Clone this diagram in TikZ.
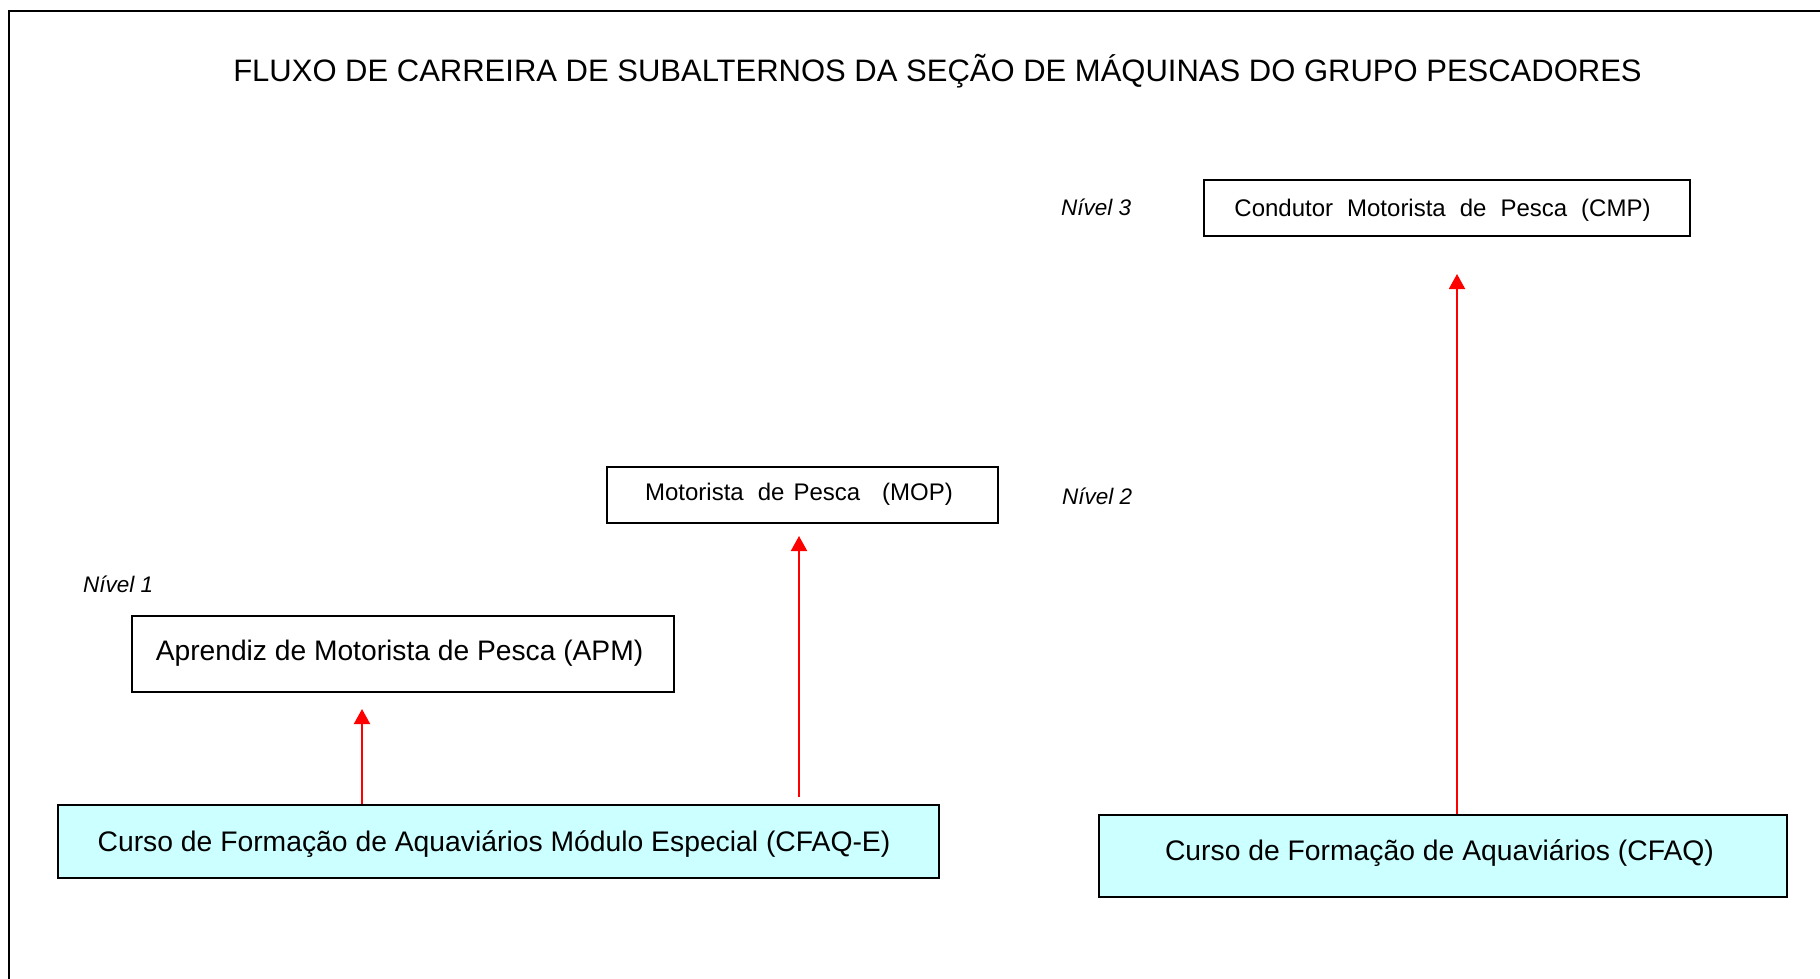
\documentclass[tikz,border=0pt]{standalone}
\usepackage{fontspec}
\setmainfont{Liberation Sans}
\usetikzlibrary{arrows.meta}
\definecolor{cfaqcyan}{RGB}{204,255,255}
\begin{document}
\begin{tikzpicture}[x=1pt,y=-1pt,
  box/.style={draw=black, line width=2pt, rectangle, inner sep=0pt, anchor=north west},
  smalltxt/.style={font=\fontsize{24}{29}\selectfont, text height=17pt, text depth=0pt},
  bigtxt/.style={font=\fontsize{28.3}{34}\selectfont, text height=20pt, text depth=0pt},
  course/.style={box, bigtxt, fill=cfaqcyan},
  lvl/.style={font=\fontsize{22.5}{27}\selectfont\itshape, anchor=base west, inner sep=0pt},
  up/.style={draw=red, line width=2pt, -{Triangle[width=16pt,length=15pt]}},
  frameline/.style={line width=2.5pt}]
\useasboundingbox (0,0) rectangle (1820,979);
\draw[frameline] (9,979) -- (9,11) -- (1820,11);

\node[anchor=base, inner sep=0pt, font=\fontsize{31}{37}\selectfont] (title) at (937.5,82)
  {FLUXO DE CARREIRA DE SUBALTERNOS DA SEÇÃO DE MÁQUINAS DO GRUPO PESCADORES};

\node[lvl] (n3) at (1061,215) {Nível 3};
\node[lvl] (n2) at (1062,504) {Nível 2};
\node[lvl] (n1) at (83,592) {Nível 1};

\node[box, smalltxt, text depth=1pt, minimum width=486pt, minimum height=56pt] (cmp) at (1203,179)
  {Condutor\hspace{14pt}Motorista\hspace{14pt}de\hspace{14pt}Pesca\hspace{14pt}(CMP)\kern9pt};
\node[box, smalltxt, text depth=6pt, minimum width=391pt, minimum height=56pt] (mop) at (606,466)
  {Motorista\hspace{14pt}de\hspace{9pt}Pesca\hspace{22pt}(MOP)\kern7pt};
\node[box, bigtxt, text depth=7pt, minimum width=542pt, minimum height=76pt] (apm) at (131,615)
  {\fontsize{28.2}{34}\selectfont Aprendiz de Motorista de Pesca (APM)\kern7pt};
\node[course, minimum width=881pt, minimum height=73pt] (cfaqe) at (57,804)
  {Curso de Formação de Aquaviários Módulo Especial (CFAQ-E)\kern9pt};
\node[course, text depth=12pt, minimum width=688pt, minimum height=82pt] (cfaq) at (1098,814)
  {Curso de Formação de Aquaviários (CFAQ)\kern7pt};

\coordinate (t1) at (362,709);
\coordinate (t2) at (799,536);
\coordinate (t3) at (1457,274);
\draw[up] (cfaqe.north -| t1) -- (t1);
\draw[up] ([yshift=7pt]cfaqe.north -| t2) -- (t2);
\draw[up] (cfaq.north -| t3) -- (t3);
\end{tikzpicture}
\end{document}
